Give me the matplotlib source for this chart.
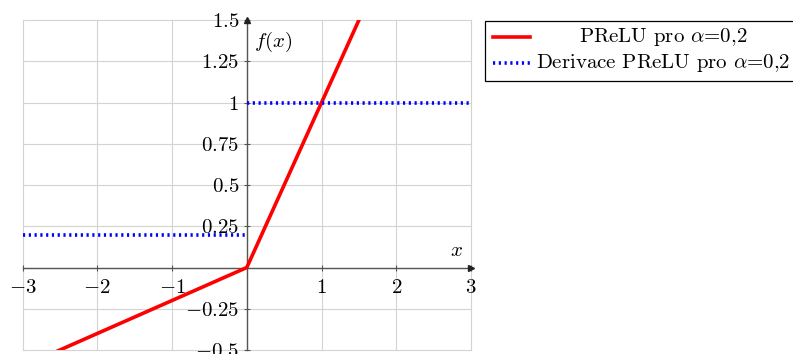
import numpy as np
import matplotlib
matplotlib.use('Agg')
import matplotlib.pyplot as plt
from matplotlib.lines import Line2D
from matplotlib.patches import Rectangle

plt.rcParams['font.family'] = ['cmr10', 'DejaVu Serif']
plt.rcParams['mathtext.fontset'] = 'cm'
plt.rcParams['axes.formatter.use_mathtext'] = True
plt.rcParams['font.size'] = 15

# data
x_prelu = [-3, 0, 3]
y_prelu = [-0.6, 0, 3]
x_deriv = [-3, 0, np.nan, 0, 3]
y_deriv = [0.2, 0.2, np.nan, 1, 1]

x_ticks = [-3, -2, -1, 1, 2, 3]
y_ticks = [-0.5, -0.25, 0.25, 0.5, 0.75, 1, 1.25, 1.5]
y_tick_labels = ['$-0.5$', '$-0.25$', '$0.25$', '$0.5$', '$0.75$', '$1$', '$1.25$', '$1.5$']
x_tick_labels = ['$-3$', '$-2$', '$-1$', '$1$', '$2$', '$3$']
labels = [r'PReLU pro $\alpha$=0,2', r'Derivace PReLU pro $\alpha$=0,2']

W, H = 793, 354
fig = plt.figure(figsize=(W / 100, H / 100), dpi=100)
ax = fig.add_axes([0.0284, 0.0113, 0.5656, 0.932])

red_style = dict(color='red', lw=2.6)
blue_style = dict(color='blue', lw=2.6, linestyle=(0, (0.6, 1.0)))

ax.plot(x_prelu, y_prelu, zorder=4, **red_style)
ax.plot(x_deriv, y_deriv, zorder=4, **blue_style)

ax.set_xlim(-3, 3)
ax.set_ylim(-0.5, 1.5)

# grid over full range including borders
for v in [-3, -2, -1, 0, 1, 2, 3]:
    ax.axvline(v, color='#d3d3d3', lw=0.8, zorder=0, clip_on=False)
for v in [-0.5, -0.25, 0, 0.25, 0.5, 0.75, 1, 1.25, 1.5]:
    ax.axhline(v, color='#d3d3d3', lw=0.8, zorder=0, clip_on=False)

ax.spines['left'].set_position('zero')
ax.spines['bottom'].set_position('zero')
ax.spines['right'].set_visible(False)
ax.spines['top'].set_visible(False)
for s in ['left', 'bottom']:
    ax.spines[s].set_color('#555555')
    ax.spines[s].set_linewidth(1.0)
    ax.spines[s].set_zorder(3)

ax.set_xticks(x_ticks)
ax.set_xticklabels(x_tick_labels)
ax.set_yticks(y_ticks)
ax.set_yticklabels(y_tick_labels)
ax.tick_params(direction='inout', length=5, width=0.8, color='#555555')
ax.tick_params(axis='x', pad=6)
ax.tick_params(axis='y', pad=3)

ax.plot(1, 0, '>', color='#222222', ms=4, transform=ax.get_yaxis_transform(), clip_on=False, zorder=5)
ax.plot(0, 1, '^', color='#222222', ms=4, transform=ax.get_xaxis_transform(), clip_on=False, zorder=5)

ax.text(0.1, 1.37, '$f(x)$', ha='left', va='center')
ax.text(2.81, 0.1, '$x$', ha='center', va='center')

# legend box (pgfplots style, text centred)
fig.add_artist(Rectangle((485 / W, 1 - 81 / H), 330 / W, 60 / H, transform=fig.transFigure,
                         facecolor='white', edgecolor='black', lw=0.9))
for i, (lab, st) in enumerate([(labels[0], red_style), (labels[1], blue_style)]):
    yy = 1 - (37 + 26 * i) / H
    fig.add_artist(Line2D([493 / W, 530 / W], [yy, yy], transform=fig.transFigure, **st))
    fig.text(663 / W, yy, lab, ha='center', va='center')

fig.savefig('out.png', dpi=100)
